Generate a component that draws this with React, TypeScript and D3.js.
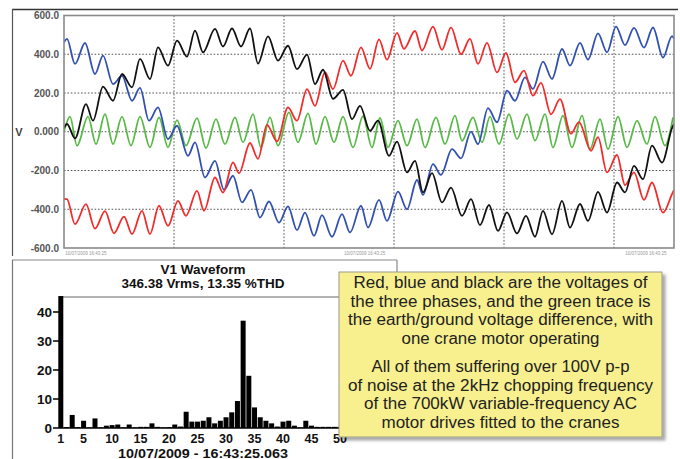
import React from 'react';
import * as d3 from 'd3';

type Pt = [number, number];

// ---- Top chart: three phase voltages + earth voltage (time in ms, volts) ----
const Y_TICKS = [600, 400, 200, 0, -200, -400, -600];
const Y_TICK_LABELS = ['600.0', '400.0', '200.0', '0.000', '-200.0', '-400.0', '-600.0'];
const GRID_VALUES = [400, 200, 0, -200, -400];
const GRID_TIMES = [4.4, 8.8, 13.2, 17.6, 22.0];
const TIME_DOMAIN: [number, number] = [0, 24.4];
const TIME_LABELS = ['10/07/2009 16:43:25', '10/07/2009 16:43:25', '10/07/2009 16:43:25'];
const TIME_LABEL_AT = [0.05, 11.2, 22.45];

const BLACK_PHASE: Pt[] = [
  [0.0, 20], [0.12, 40], [0.44, -34], [0.88, 143], [1.16, 57], [1.56, 233], [1.96, 160], [2.32, 298],
  [2.72, 229], [3.04, 376], [3.44, 272], [3.76, 436], [4.16, 341], [4.52, 470], [4.92, 388], [5.24, 522],
  [5.56, 410], [6.04, 531], [6.36, 440], [6.72, 533], [7.08, 440], [7.44, 533], [7.76, 352], [8.16, 492],
  [8.56, 367], [8.96, 444], [9.32, 323], [9.72, 398], [10.04, 246], [10.36, 320], [10.76, 170], [11.16, 216],
  [11.52, 65], [11.84, 134], [12.24, 5], [12.56, 57], [13.0, -124], [13.32, -51], [13.72, -210], [14.04, -150],
  [14.36, -313], [14.72, -214], [15.12, -365], [15.48, -288], [15.92, -434], [16.28, -348], [16.64, -482],
  [17.0, -378], [17.36, -512], [17.72, -416], [18.12, -525], [18.48, -434], [18.84, -542], [19.16, -408],
  [19.52, -529], [19.92, -357], [20.24, -495], [20.64, -373], [20.96, -460], [21.36, -310], [21.72, -417],
  [22.12, -262], [22.44, -313], [22.8, -176], [23.16, -245], [23.52, -72], [23.92, -159], [24.32, 18], [24.4, 40],
];

const RED_PHASE: Pt[] = [
  [0.0, -346], [0.12, -348], [0.44, -477], [0.88, -374], [1.24, -500], [1.64, -410], [2.0, -524], [2.4, -438],
  [2.72, -528], [3.12, -408], [3.44, -528], [3.8, -382], [4.16, -486], [4.56, -357], [4.88, -434], [5.32, -305],
  [5.6, -408], [6.04, -236], [6.36, -314], [6.76, -158], [7.0, -214], [7.44, -58], [7.76, -140], [8.12, 35],
  [8.52, -50], [8.96, 126], [9.32, 57], [9.72, 220], [10.04, 134], [10.44, 307], [10.76, 220], [11.16, 367],
  [11.48, 289], [11.88, 436], [12.24, 325], [12.6, 477], [12.92, 372], [13.32, 510], [13.6, 428], [14.04, 520],
  [14.32, 419], [14.76, 543], [15.12, 423], [15.48, 539], [15.88, 400], [16.24, 479], [16.56, 350], [16.92, 459],
  [17.32, 306], [17.68, 407], [18.04, 255], [18.4, 315], [18.76, 186], [19.08, 252], [19.48, 90], [19.84, 168],
  [20.28, -10], [20.6, 50], [21.08, -98], [21.36, -28], [21.72, -210], [22.12, -120], [22.44, -275], [22.8, -210],
  [23.2, -352], [23.52, -262], [23.96, -417], [24.32, -322], [24.4, -300],
];

const BLUE_PHASE: Pt[] = [
  [0.0, 462], [0.12, 479], [0.44, 350], [0.84, 458], [1.24, 298], [1.56, 393], [1.96, 246], [2.32, 289],
  [2.72, 160], [3.04, 226], [3.4, 57], [3.76, 126], [4.16, -38], [4.52, 31], [4.96, -124], [5.24, -55],
  [5.64, -236], [6.04, -150], [6.4, -300], [6.76, -227], [7.12, -365], [7.48, -300], [7.84, -443], [8.2, -360],
  [8.6, -469], [8.96, -385], [9.32, -508], [9.64, -417], [10.0, -537], [10.32, -430], [10.72, -542], [11.12, -425],
  [11.44, -520], [11.88, -382], [12.16, -494], [12.6, -352], [12.92, -460], [13.36, -309], [13.72, -400],
  [14.12, -249], [14.36, -326], [14.76, -167], [15.08, -223], [15.52, -90], [15.88, -137], [16.28, 1],
  [16.56, -64], [16.96, 122], [17.32, 49], [17.72, 212], [18.04, 160], [18.44, 281], [18.76, 221], [19.16, 362],
  [19.52, 273], [19.92, 427], [20.24, 341], [20.64, 459], [20.96, 373], [21.36, 508], [21.72, 410], [22.08, 543],
  [22.44, 447], [22.8, 536], [23.2, 434], [23.56, 538], [23.96, 383], [24.32, 494], [24.4, 480],
];

const EARTH_VOLTAGE: Pt[] = [
  [0.0, 0], [0.24, 78], [0.52, -72], [0.96, 78], [1.28, -64], [1.64, 91], [1.96, -64], [2.32, 78], [2.68, -72],
  [3.04, 78], [3.44, -81], [3.8, 74], [4.16, -81], [4.52, 60], [4.88, -72], [5.32, 70], [5.68, -84], [6.08, 65],
  [6.44, -64], [6.84, 74], [7.16, -55], [7.56, 91], [7.88, -81], [8.24, 74], [8.56, -72], [9.0, 100], [9.36, -55],
  [9.76, 95], [10.08, -64], [10.44, 78], [10.8, -55], [11.16, 78], [11.56, -81], [11.96, 80], [12.32, -81],
  [12.64, 71], [12.96, -81], [13.36, 57], [13.72, -72], [14.12, 65], [14.44, -81], [14.88, 74], [15.24, -64],
  [15.64, 83], [15.92, -47], [16.36, 74], [16.72, -55], [17.04, 78], [17.4, -64], [17.8, 91], [18.12, -38],
  [18.52, 91], [18.84, -46], [19.24, 91], [19.56, -81], [19.96, 83], [20.32, -81], [20.72, 83], [21.04, -90],
  [21.44, 65], [21.76, -90], [22.16, 78], [22.52, -81], [22.92, 57], [23.32, -64], [23.64, 78], [24.04, -72],
  [24.36, 74],
];

// ---- Bottom chart: harmonic spectrum (% of fundamental), harmonics 1..50 ----
const HARMONIC_VALUES = [
  45.5, 0.3, 4.5, 0.3, 2.5, 0.2, 3.3, 0.2, 0.8, 1.0,
  1.2, 0.2, 1.2, 0.2, 0.4, 0.4, 1.6, 0.4, 0.2, 0.3,
  1.2, 0.5, 5.6, 2.2, 2.2, 2.5, 3.7, 1.6, 2.5, 3.7,
  5.4, 9.3, 37.0, 18.0, 7.1, 3.7, 2.5, 1.6, 0.5, 2.2,
  2.5, 0.8, 0.2, 2.5, 0.8, 0.4, 0.4, 0.4, 0.4, 0.4,
];
const HARMONIC_TICKS = [1, 5, 10, 15, 20, 25, 30, 35, 40, 45, 50];
const PERCENT_TICKS = [0, 10, 20, 30, 40];
const SPECTRUM_TITLE = 'V1 Waveform';
const SPECTRUM_SUBTITLE = '346.38 Vrms, 13.35 %THD';
const SPECTRUM_DATE = '10/07/2009 - 16:43:25.063';

const NOTE_LINES = [
  'Red, blue and black are the voltages of',
  'the three phases, and the green trace is',
  'the earth/ground voltage difference, with',
  'one crane motor operating',
  'All of them suffering over 100V p-p',
  'of noise at the 2kHz chopping frequency',
  'of the 700kW variable-frequency AC',
  'motor drives fitted to the cranes',
];

const FONT = '"Liberation Sans", Arial, Helvetica, sans-serif';

export default function App() {
  const W = 680;
  const H = 459;

  // top chart geometry
  const pl = 64, pr = 674, pt = 15.5, pb = 248;
  const xT = d3.scaleLinear().domain(TIME_DOMAIN).range([pl, pr]);
  const yT = d3.scaleLinear().domain([-600, 600]).range([pb, pt]);
  const line = d3
    .line<Pt>()
    .x((d) => xT(d[0]))
    .y((d) => yT(d[1]))
    .curve(d3.curveMonotoneX);

  const series = [
    { data: EARTH_VOLTAGE, color: '#58b947' },
    { data: BLUE_PHASE, color: '#3150b0' },
    { data: RED_PHASE, color: '#f22b2b' },
    { data: BLACK_PHASE, color: '#111111' },
  ];

  // bottom chart geometry
  const hl = 60, hTop = 297, hBase = 428;
  const xH = d3.scaleLinear().domain([1, 50]).range([60.8, 340]);
  const yH = d3.scaleLinear().domain([0, 45]).range([hBase, hTop + 0.5]);
  const barW = 5;

  const noteX = 339, noteY = 272, noteW = 323, noteH = 165;
  const noteCx = noteX + noteW / 2;
  const noteBaselines = [288, 306.5, 325, 343.5, 372, 390.5, 409, 427.5];
  const noteWidths = [294, 300, 305, 198, 258, 305, 273, 238];

  return (
    <svg
      width={W}
      height={H}
      style={{ position: 'absolute', left: 0, top: 0, background: '#fff' }}
      fontFamily={FONT}
    >
      <defs>
        <clipPath id="plotClip">
          <rect x={pl} y={pt} width={pr - pl} height={pb - pt} />
        </clipPath>
        <filter id="shadow" x="-10%" y="-10%" width="120%" height="125%">
          <feDropShadow dx="3" dy="3" stdDeviation="1.5" floodColor="#000" floodOpacity="0.35" />
        </filter>
      </defs>
      <rect x={0} y={0} width={W} height={H} fill="#fff" />

      {/* top panel frame */}
      <line x1={12} x2={678} y1={9.5} y2={9.5} stroke="#333" strokeWidth={1.3} />
      <line x1={12.5} x2={12.5} y1={9} y2={256} stroke="#555" strokeWidth={1.2} />

      {/* grid */}
      {GRID_VALUES.map((v) => (
        <line key={'gy' + v} x1={pl} x2={pr} y1={yT(v)} y2={yT(v)} stroke="#555" strokeWidth={1} strokeDasharray="1.6,1.8" />
      ))}
      {GRID_TIMES.map((t) => (
        <line key={'gx' + t} x1={xT(t)} x2={xT(t)} y1={pt} y2={pb} stroke="#555" strokeWidth={1} strokeDasharray="1.6,1.8" />
      ))}

      {/* waveforms */}
      <g clipPath="url(#plotClip)">
        {series.map((s, i) => (
          <path key={i} d={line(s.data) || ''} fill="none" stroke={s.color} strokeWidth={1.8} strokeLinejoin="round" />
        ))}
      </g>

      {/* plot border */}
      <rect x={pl} y={pt} width={pr - pl} height={pb - pt} fill="none" stroke="#8a8a8a" strokeWidth={1.6} />

      {/* y tick labels */}
      {Y_TICKS.map((v, i) => (
        <text key={'yl' + v} x={59} y={yT(v)} dy="0.35em" textAnchor="end" fontSize={10} fontWeight="bold" fill="#555">
          {Y_TICK_LABELS[i]}
        </text>
      ))}
      <text x={19} y={yT(0)} dy="0.35em" textAnchor="middle" fontSize={11} fontWeight="bold" fill="#444">V</text>

      {/* faint date labels beneath top chart */}
      {TIME_LABELS.map((s, i) => (
        <text key={'tl' + i} x={xT(TIME_LABEL_AT[i])} y={255} fontSize={4.5} fill="#999">{s}</text>
      ))}

      {/* bottom panel frame */}
      <line x1={12} x2={397} y1={260} y2={260} stroke="#888" strokeWidth={1.2} />
      <line x1={12.5} x2={12.5} y1={260} y2={H} stroke="#777" strokeWidth={1.2} />
      <line x1={397} x2={397} y1={260} y2={280} stroke="#888" strokeWidth={1.2} />

      {/* spectrum titles */}
      <text x={203} y={274} textAnchor="middle" fontSize={13.5} fontWeight="bold" fill="#111">{SPECTRUM_TITLE}</text>
      <text x={203} y={288} textAnchor="middle" fontSize={13.5} fontWeight="bold" fill="#111">{SPECTRUM_SUBTITLE}</text>

      {/* spectrum frame */}
      <line x1={hl} x2={400} y1={hTop} y2={hTop} stroke="#666" strokeWidth={1} />

      {/* bars */}
      {HARMONIC_VALUES.map((v, i) => (
        <rect key={'b' + i} x={xH(i + 1) - barW / 2} y={yH(v)} width={barW} height={hBase - yH(v)} fill="#000" />
      ))}

      {/* axes */}
      <line x1={hl} x2={hl} y1={hTop} y2={hBase} stroke="#000" strokeWidth={1.5} />
      <line x1={hl} x2={345} y1={hBase} y2={hBase} stroke="#000" strokeWidth={1.5} />
      {PERCENT_TICKS.map((v) => (
        <g key={'pt' + v}>
          <line x1={53} x2={hl} y1={yH(v)} y2={yH(v)} stroke="#000" strokeWidth={1.5} />
          <text x={52} y={yH(v)} dy="0.36em" textAnchor="end" fontSize={13.5} fontWeight="bold" fill="#111">{v}</text>
        </g>
      ))}
      {HARMONIC_TICKS.map((h) => (
        <text key={'ht' + h} x={xH(h)} y={443} textAnchor="middle" fontSize={12.5} fontWeight="bold" fill="#111">{h}</text>
      ))}
      <text x={203} y={457.5} textAnchor="middle" fontSize={12.5} fontWeight="bold" fill="#111"
        textLength={170} lengthAdjust="spacingAndGlyphs">{SPECTRUM_DATE}</text>

      {/* note */}
      <rect x={noteX} y={noteY} width={noteW} height={noteH} fill="#f8f08e" stroke="#9a9a8a" strokeWidth={1} filter="url(#shadow)" />
      {NOTE_LINES.map((s, i) => (
        <text
          key={'n' + i}
          x={noteCx}
          y={noteBaselines[i]}
          textAnchor="middle"
          fontSize={16}
          fill="#222"
          textLength={noteWidths[i]}
          lengthAdjust="spacingAndGlyphs"
        >
          {s}
        </text>
      ))}
    </svg>
  );
}
